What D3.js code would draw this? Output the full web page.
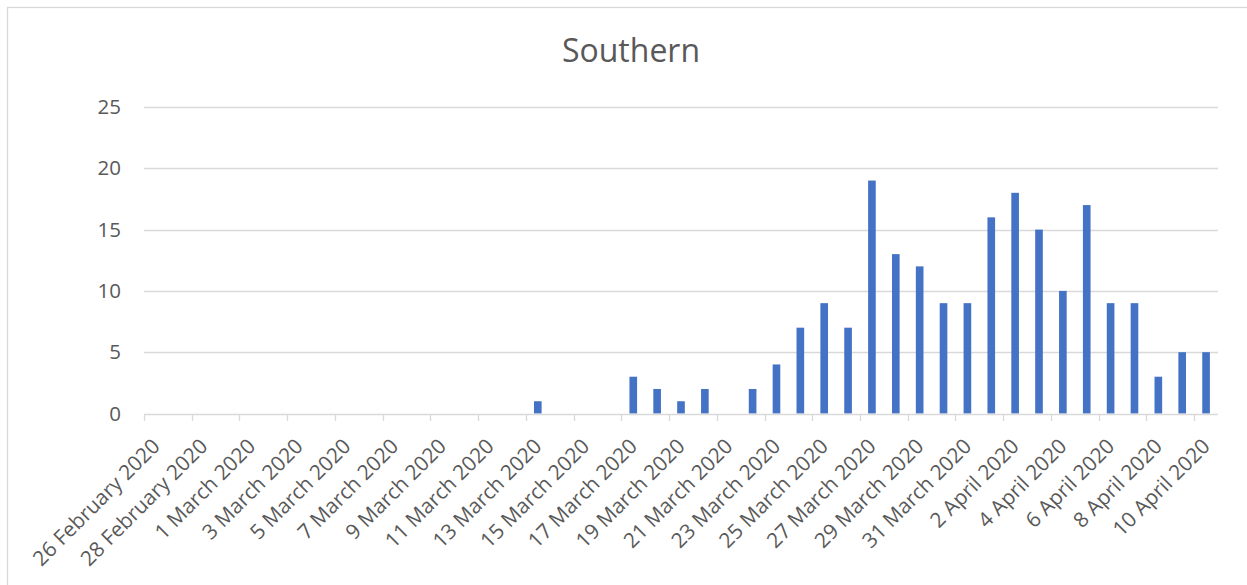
<!DOCTYPE html>
<html>
<head>
<meta charset="utf-8">
<script src="https://cdn.jsdelivr.net/npm/d3@7"></script>
<style>
  html, body { margin: 0; padding: 0; background: #ffffff; }
  svg { display: block; }
  text { font-family: "Open Sans", "Noto Sans", sans-serif; fill: #595959; }
</style>
</head>
<body>
<svg id="chart" width="1247" height="585"></svg>
<script>
const title = "Southern";

const categories = [
  "26 February 2020", "27 February 2020", "28 February 2020", "29 February 2020",
  "1 March 2020", "2 March 2020", "3 March 2020", "4 March 2020", "5 March 2020",
  "6 March 2020", "7 March 2020", "8 March 2020", "9 March 2020", "10 March 2020",
  "11 March 2020", "12 March 2020", "13 March 2020", "14 March 2020", "15 March 2020",
  "16 March 2020", "17 March 2020", "18 March 2020", "19 March 2020", "20 March 2020",
  "21 March 2020", "22 March 2020", "23 March 2020", "24 March 2020", "25 March 2020",
  "26 March 2020", "27 March 2020", "28 March 2020", "29 March 2020", "30 March 2020",
  "31 March 2020", "1 April 2020", "2 April 2020", "3 April 2020", "4 April 2020",
  "5 April 2020", "6 April 2020", "7 April 2020", "8 April 2020", "9 April 2020",
  "10 April 2020"
];

const values = [
  0, 0, 0, 0,
  0, 0, 0, 0, 0,
  0, 0, 0, 0, 0,
  0, 0, 1, 0, 0,
  0, 3, 2, 1, 2,
  0, 2, 4, 7, 9,
  7, 19, 13, 12, 9,
  9, 16, 18, 15, 10,
  17, 9, 9, 3, 5,
  5
];

const yTicks = [0, 5, 10, 15, 20, 25];
const tickLabels = categories.filter((d, i) => i % 2 === 0);

(function () {
const svg = d3.select("#chart");

// chart border
svg.append("rect")
  .attr("x", 7.5).attr("y", 7.5)
  .attr("width", 1260).attr("height", 600)
  .attr("fill", "none")
  .attr("stroke", "#d9d9d9")
  .attr("stroke-width", 1.3);

const pLeft = 144, pRight = 1218, pTop = 107, pBottom = 413.5;

const x = d3.scaleBand()
  .domain(categories)
  .range([pLeft, pRight])
  .paddingInner(0.68)
  .paddingOuter(0.34);

const band = (pRight - pLeft) / categories.length;

const y = d3.scaleLinear()
  .domain([0, 25])
  .range([pBottom, pTop]);

// title
svg.append("text")
  .attr("x", 631)
  .attr("y", 62)
  .attr("text-anchor", "middle")
  .style("font-size", "32px")
  .text(title);

// gridlines
svg.append("g")
  .selectAll("line")
  .data(yTicks.filter(d => d !== 0))
  .join("line")
  .attr("x1", pLeft).attr("x2", pRight)
  .attr("y1", d => Math.round(y(d)) + 0.5)
  .attr("y2", d => Math.round(y(d)) + 0.5)
  .attr("stroke", "#d9d9d9")
  .attr("stroke-width", 1.3);

// y axis labels
const yAxis = d3.axisLeft(y).tickValues(yTicks).tickSize(0).tickPadding(23);
const gy = svg.append("g")
  .attr("transform", `translate(${pLeft},0)`)
  .call(yAxis);
gy.select(".domain").remove();
gy.selectAll("text")
  .style("font-size", "20.5px")
  .style("font-family", "'Open Sans', sans-serif")
  .attr("fill", "#595959");

// bars
svg.append("g")
  .selectAll("rect")
  .data(values.map((v, i) => ({ c: categories[i], v })))
  .join("rect")
  .attr("x", d => x(d.c))
  .attr("width", x.bandwidth())
  .attr("y", d => y(d.v))
  .attr("height", d => y(0) - y(d.v))
  .attr("fill", "#4472c4");

// x axis line and ticks
const gx = svg.append("g");
gx.append("line")
  .attr("x1", pLeft).attr("x2", pRight)
  .attr("y1", Math.round(pBottom) + 0.5).attr("y2", Math.round(pBottom) + 0.5)
  .attr("stroke", "#d9d9d9")
  .attr("stroke-width", 1.3);

const tickBounds = categories.map((d, i) => i).filter(i => i % 2 === 0);
gx.selectAll("line.tick")
  .data(tickBounds)
  .join("line")
  .attr("class", "tick")
  .attr("x1", i => Math.round(pLeft + i * band) + 0.5)
  .attr("x2", i => Math.round(pLeft + i * band) + 0.5)
  .attr("y1", Math.round(pBottom))
  .attr("y2", Math.round(pBottom) + 7)
  .attr("stroke", "#d9d9d9")
  .attr("stroke-width", 1.3);

// x labels
gx.selectAll("text")
  .data(tickLabels)
  .join("text")
  .attr("transform", d => `translate(${x(d) + x.bandwidth() / 2},${pBottom + 29}) rotate(-45)`)
  .attr("text-anchor", "end")
  .attr("dy", "0.35em")
  .style("font-size", "20.8px")
  .text(d => d);
})();
</script>
</body>
</html>
